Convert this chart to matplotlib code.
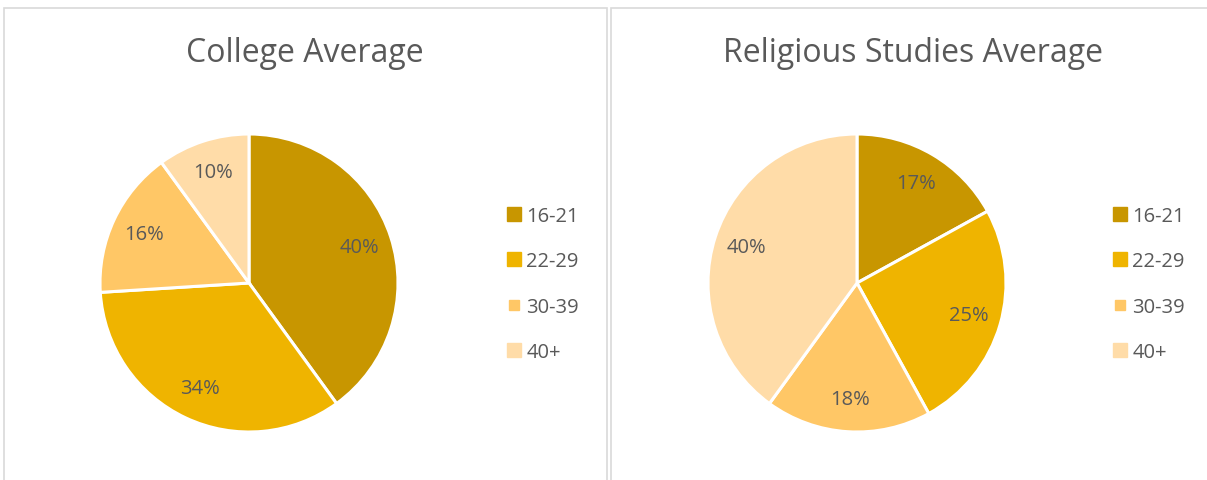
import matplotlib.pyplot as plt
from matplotlib.lines import Line2D
from matplotlib.patches import Rectangle

plt.rcParams['font.family'] = ['Open Sans', 'DejaVu Sans']

# age groups and shares (%)
age_groups = ['16-21', '22-29', '30-39', '40+']
college_avg = [40, 34, 16, 10]
religious_avg = [17, 25, 18, 40]
titles = ['College Average', 'Religious Studies Average']

colors = ['#C89600', '#EFB400', '#FFC766', '#FFDCA8']
marker_sizes = [10, 10, 6.5, 10]
text_color = '#595959'

W, H = 1207, 481
fig = plt.figure(figsize=(W / 100, H / 100), dpi=100)

# panel borders (pixel coords, y from top)
for x0, x1 in [(4, 607), (611, 1230)]:
    fig.add_artist(Rectangle((x0 / W, -0.1), (x1 - x0) / W, 1.1 - 9 / H,
                             transform=fig.transFigure, fill=False,
                             edgecolor='#D9D9D9', linewidth=1.2))

panels = [
    (college_avg, 249, 305, 498),
    (religious_avg, 857, 913, 1104),
]

for i, (vals, cx, title_x, leg_x) in enumerate(panels):
    r = 149
    ax = fig.add_axes([(cx - r) / W, (H - 284 - r) / H, 2 * r / W, 2 * r / H])
    ax.pie(vals, colors=colors, startangle=90, counterclock=False,
           autopct='%d%%', pctdistance=0.78,
           wedgeprops=dict(edgecolor='white', linewidth=2.2),
           textprops=dict(color=text_color, fontsize=14.5))
    ax.set_xlim(-1, 1)
    ax.set_ylim(-1, 1)
    ax.set_aspect('equal')
    ax.axis('off')

    fig.text(title_x / W, 1 - 54 / H, titles[i], ha='center', va='center',
             fontsize=23, color=text_color)

    handles = [Line2D([], [], linestyle='none', marker='s', markersize=ms,
                      markerfacecolor=c, markeredgecolor=c)
               for c, ms in zip(colors, marker_sizes)]
    fig.legend(handles, age_groups, loc='upper left',
               bbox_to_anchor=(leg_x / W, 1 - 199 / H), frameon=False,
               fontsize=14.5, labelcolor=text_color, handlelength=0.8,
               handletextpad=0.2, labelspacing=1.26, borderaxespad=0)

fig.savefig('out.png', dpi=100, facecolor='white')
